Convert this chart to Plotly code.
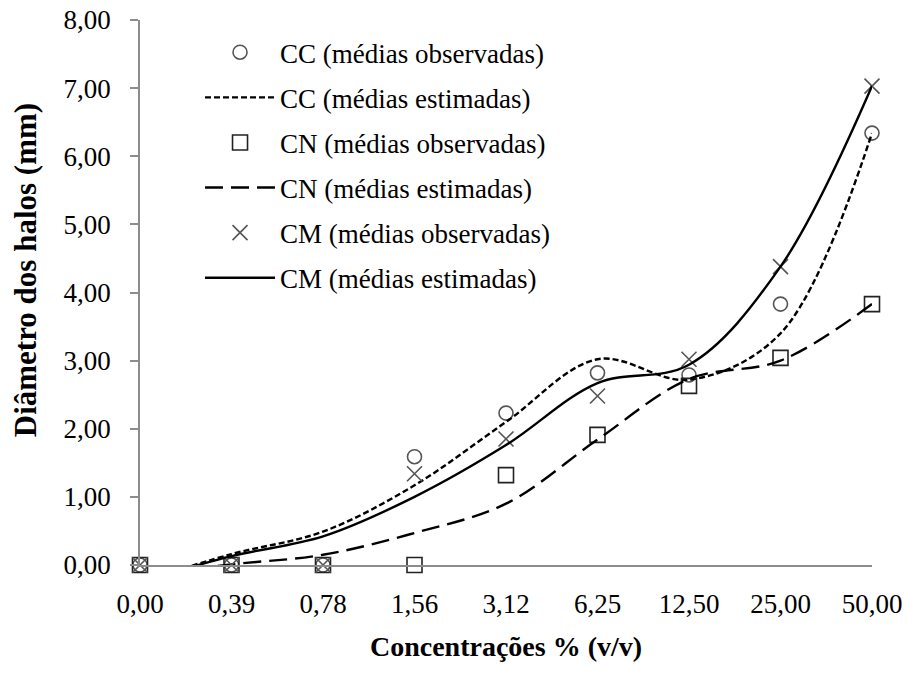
import plotly.graph_objects as go

categories = ["0,00", "0,39", "0,78", "1,56", "3,12", "6,25", "12,50", "25,00", "50,00"]

cc_obs = [0.0, 0.0, 0.0, 1.59, 2.23, 2.82, 2.79, 3.83, 6.34]
cn_obs = [0.0, 0.0, 0.0, 0.0, 1.32, 1.91, 2.63, 3.04, 3.83]
cm_obs = [0.0, 0.0, 0.0, 1.34, 1.85, 2.48, 3.02, 4.38, 7.03]

cc_est = [-0.25, 0.16, 0.49, 1.17, 2.10, 3.02, 2.72, 3.40, 6.34]
cn_est = [-0.15, 0.01, 0.15, 0.47, 0.90, 1.84, 2.73, 3.00, 3.83]
cm_est = [-0.25, 0.13, 0.42, 1.00, 1.76, 2.67, 2.94, 4.38, 7.03]

FONT = "Liberation Serif"
AXIS_COLOR = "#8c8c8c"

fig = go.Figure()

def add_obs(name, y, symbol, color, size, group):
    fig.add_trace(go.Scatter(
        x=categories, y=y, mode="markers", name=name, legendgroup=group,
        marker=dict(symbol=symbol, size=size, color=color,
                    line=dict(color=color, width=1.6)),
        cliponaxis=False,
    ))

def add_est(name, y, dash, group):
    fig.add_trace(go.Scatter(
        x=categories, y=y, mode="lines", name=name, legendgroup=group,
        line=dict(shape="spline", smoothing=1.0, color="black", width=2.4, dash=dash),
    ))

add_obs("CC (médias observadas)", cc_obs, "circle-open", "#555555", 14, "g1")
add_est("CC (médias estimadas)", cc_est, "6px,3px", "g2")
add_obs("CN (médias observadas)", cn_obs, "square-open", "#222222", 15, "g3")
add_est("CN (médias estimadas)", cn_est, "18px,8px", "g4")
add_obs("CM (médias observadas)", cm_obs, "x-thin-open", "#555555", 15, "g5")
add_est("CM (médias estimadas)", cm_est, "solid", "g6")

fig.update_layout(
    width=908, height=676,
    margin=dict(l=140, r=36, t=20, b=111),
    paper_bgcolor="white", plot_bgcolor="white",
    separators=",.",
    font=dict(family=FONT, size=27, color="black"),
    showlegend=True,
    legend=dict(
        x=0.082, y=0.985, xanchor="left", yanchor="top",
        bgcolor="rgba(0,0,0,0)", font=dict(family=FONT, size=27),
        tracegroupgap=7, traceorder="grouped", itemwidth=70,
    ),
    xaxis=dict(
        type="category", range=[0, 8], automargin=False,
        showline=True, linecolor=AXIS_COLOR, linewidth=1.5,
        showgrid=False, zeroline=False, ticks="",
        ticklabelstandoff=14, ticklabeloverflow="allow",
        tickfont=dict(family=FONT, size=27),
        title=dict(text="<b>Concentrações % (v/v)</b>", font=dict(family=FONT, size=28), standoff=18),
    ),
    yaxis=dict(
        range=[0, 8], dtick=1, tickformat=".2f", automargin=False,
        showline=True, linecolor=AXIS_COLOR, linewidth=1.5,
        showgrid=False, zeroline=False,
        ticks="outside", ticklen=8, tickcolor=AXIS_COLOR, tickwidth=1.5,
        ticklabelstandoff=14, ticklabeloverflow="allow",
        tickfont=dict(family=FONT, size=27),
    ),
    annotations=[dict(
        text="<b>Diâmetro dos halos (mm)</b>", textangle=-90,
        xref="paper", yref="paper", x=-0.157, y=0.541,
        xanchor="center", yanchor="middle", showarrow=False,
        font=dict(family=FONT, size=31, color="black"),
    )],
)

fig.write_html("out.html", config={"displayModeBar": False},
               post_script="document.body.style.margin='0';")
